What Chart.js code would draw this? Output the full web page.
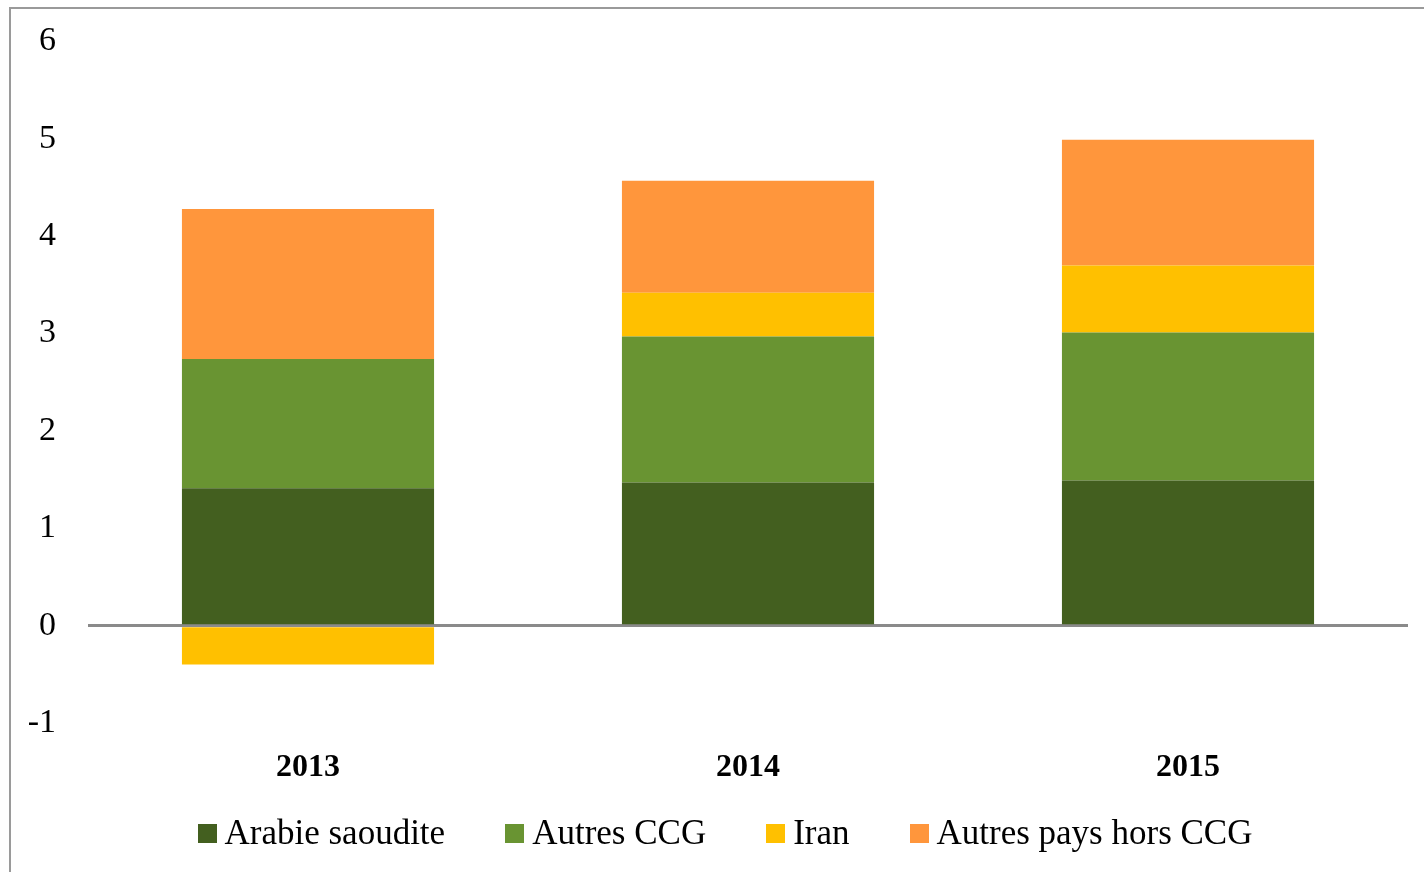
<!DOCTYPE html>
<html>
<head>
<meta charset="utf-8">
<script src="https://cdn.jsdelivr.net/npm/chart.js@4/dist/chart.umd.min.js"></script>
<style>
  html, body { margin: 0; padding: 0; background: #ffffff; overflow: hidden; }
  #wrap { position: relative; width: 1424px; height: 872px; }
  #frame { position: absolute; left: 9px; top: 7px; width: 2000px; height: 2000px;
           border-top: 2px solid #9a9a9a; border-left: 2px solid #9a9a9a; box-sizing: border-box; }
  canvas { position: absolute; left: 0; top: 0; }
  #legend { position: absolute; left: 0; width: 1450px; top: 813px; display: flex;
            justify-content: center; align-items: center;
            font-family: "Liberation Serif", "Times New Roman", serif; font-size: 35px; color: #000; }
  .item { display: flex; align-items: center; margin: 0 30px; white-space: nowrap; }
  .box { width: 19px; height: 19px; margin-right: 8px; }
</style>
</head>
<body>
<div id="wrap">
  <div id="frame"></div>
  <canvas id="c" width="1424" height="872"></canvas>
  <div id="legend"></div>
</div>
<script>
const categories = ["2013", "2014", "2015"];
const seriesNames = ["Arabie saoudite", "Autres CCG", "Iran", "Autres pays hors CCG"];
const arabieSaoudite = [1.41, 1.47, 1.49];
const autresCCG = [1.33, 1.50, 1.52];
const iran = [-0.40, 0.45, 0.69];
const autresPaysHorsCCG = [1.54, 1.15, 1.29];
const yTicks = [-1, 0, 1, 2, 3, 4, 5, 6];
const colors = ["#435F1F", "#699432", "#FFC000", "#FF963C"];

const seriesValues = [arabieSaoudite, autresCCG, iran, autresPaysHorsCCG];
const serif = "'Liberation Serif', 'Times New Roman', serif";

const datasets = seriesNames.map((name, i) => ({
  label: name,
  data: seriesValues[i],
  backgroundColor: colors[i],
  borderWidth: 0,
  barPercentage: 0.573,
  categoryPercentage: 1.0
}));

new Chart(document.getElementById('c'), {
  type: 'bar',
  data: { labels: categories, datasets },
  options: {
    responsive: false,
    animation: false,
    devicePixelRatio: 1,
    layout: { padding: { top: 41.5, right: 16, left: 0, bottom: 77 } },
    plugins: { legend: { display: false }, tooltip: { enabled: false } },
    scales: {
      x: {
        stacked: true,
        grid: { display: false, drawTicks: false },
        border: { display: false },
        ticks: { color: '#000', padding: 26, font: { family: serif, size: 32, weight: 'bold' } },
        afterFit: (s) => { s.height = 72; }
      },
      y: {
        stacked: true,
        z: 1,
        min: yTicks[0],
        max: yTicks[yTicks.length - 1],
        afterBuildTicks: (s) => { s.ticks = yTicks.map(v => ({ value: v })); },
        grid: {
          drawTicks: false,
          color: (ctx) => (ctx.tick && ctx.tick.value === 0) ? '#8a8a8a' : 'rgba(0,0,0,0)',
          lineWidth: 3
        },
        border: { display: false },
        ticks: { color: '#000', padding: 32, font: { family: serif, size: 34 } },
        afterFit: (s) => { s.width = 88; s.paddingTop = 0; s.paddingBottom = 0; }
      }
    }
  }
});

const legend = document.getElementById('legend');
seriesNames.forEach((name, i) => {
  const item = document.createElement('div');
  item.className = 'item';
  const box = document.createElement('span');
  box.className = 'box';
  box.style.background = colors[i];
  const txt = document.createElement('span');
  txt.textContent = name;
  item.appendChild(box);
  item.appendChild(txt);
  legend.appendChild(item);
});
</script>
</body>
</html>
